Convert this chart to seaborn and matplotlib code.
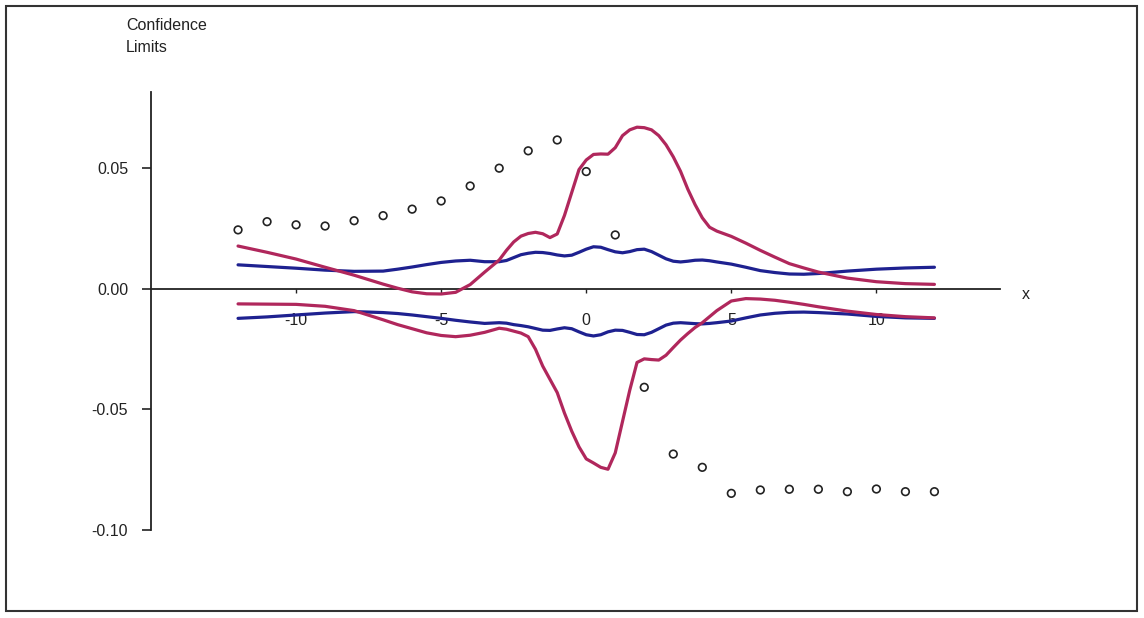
import numpy as np
import pandas as pd
import matplotlib
matplotlib.use("Agg")
import matplotlib.pyplot as plt
from matplotlib.patches import Rectangle
import seaborn as sns

# Shared abscissa for the four limit curves
x_grid = [-12, -11, -10, -9, -8, -7, -6.5, -6, -5.5, -5, -4.5, -4, -3.5, -3,
          -2.75, -2.5, -2.25, -2, -1.75, -1.5, -1.25, -1, -0.75, -0.5, -0.25,
          0, 0.25, 0.5, 0.75, 1, 1.25, 1.5, 1.75, 2, 2.25, 2.5, 2.75, 3, 3.25,
          3.5, 3.75, 4, 4.25, 4.5, 5, 5.5, 6, 6.5, 7, 7.5, 8, 9, 10, 11, 12]

red_upper = [0.0178, 0.0152, 0.0124, 0.0090, 0.0057, 0.0020, 0.0003, -0.0012,
             -0.0020, -0.0021, -0.0014, 0.0018, 0.0070, 0.0120, 0.0160,
             0.0195, 0.0219, 0.0230, 0.0235, 0.0229, 0.0213, 0.0228, 0.0305,
             0.0400, 0.0495, 0.0535, 0.0558, 0.0560, 0.0559, 0.0586, 0.0636,
             0.0660, 0.0671, 0.0669, 0.0660, 0.0636, 0.0598, 0.0548, 0.0488,
             0.0414, 0.0350, 0.0295, 0.0256, 0.0240, 0.0218, 0.0190, 0.0160,
             0.0132, 0.0105, 0.0087, 0.0070, 0.0045, 0.0030, 0.0022, 0.0019]

red_lower = [-0.0062, -0.0063, -0.0064, -0.0072, -0.0090, -0.0128, -0.0148,
             -0.0165, -0.0182, -0.0193, -0.0198, -0.0192, -0.0180, -0.0163,
             -0.0167, -0.0175, -0.0183, -0.0198, -0.0250, -0.0320, -0.0375,
             -0.0430, -0.0515, -0.0590, -0.0655, -0.0705, -0.0722, -0.0740,
             -0.0748, -0.0680, -0.0550, -0.0420, -0.0305, -0.0290, -0.0293,
             -0.0295, -0.0275, -0.0243, -0.0212, -0.0185, -0.0160, -0.0140,
             -0.0115, -0.0090, -0.0050, -0.0040, -0.0042, -0.0047, -0.0055,
             -0.0064, -0.0074, -0.0092, -0.0106, -0.0115, -0.0120]

blue_upper = [0.0100, 0.0093, 0.0086, 0.0078, 0.0073, 0.0074, 0.0082, 0.0091,
              0.0101, 0.0110, 0.0116, 0.0119, 0.0113, 0.0113, 0.0118, 0.0130,
              0.0142, 0.0148, 0.0152, 0.0151, 0.0147, 0.0141, 0.0137, 0.0140,
              0.0152, 0.0165, 0.0175, 0.0173, 0.0163, 0.0154, 0.0150, 0.0155,
              0.0163, 0.0165, 0.0155, 0.0140, 0.0125, 0.0115, 0.0112, 0.0115,
              0.0119, 0.0120, 0.0117, 0.0112, 0.0103, 0.0090, 0.0076, 0.0068,
              0.0062, 0.0061, 0.0064, 0.0074, 0.0082, 0.0087, 0.0090]

blue_lower = [-0.0122, -0.0116, -0.0108, -0.0100, -0.0094, -0.0098, -0.0102,
              -0.0108, -0.0115, -0.0122, -0.0130, -0.0137, -0.0143, -0.0140,
              -0.0142, -0.0148, -0.0152, -0.0157, -0.0164, -0.0171, -0.0172,
              -0.0166, -0.0161, -0.0165, -0.0178, -0.0190, -0.0195, -0.0190,
              -0.0178, -0.0171, -0.0172, -0.0180, -0.0189, -0.0190, -0.0180,
              -0.0165, -0.0150, -0.0142, -0.0140, -0.0142, -0.0144, -0.0145,
              -0.0143, -0.0140, -0.0133, -0.0120, -0.0108, -0.0101, -0.0097,
              -0.0096, -0.0098, -0.0104, -0.0114, -0.0120, -0.0122]

# Point estimates shown as open circles
point_x = list(range(-12, 13))
point_y = [0.0245, 0.0279, 0.0266, 0.0261, 0.0283, 0.0304, 0.0331, 0.0365,
           0.0427, 0.0501, 0.0573, 0.0618, 0.0487, 0.0224, -0.0408, -0.0685,
           -0.0740, -0.0848, -0.0834, -0.0831, -0.0831, -0.0841, -0.0830,
           -0.0841, -0.0841]

x_ticks = [-10, -5, 0, 5, 10]
y_ticks = [-0.10, -0.05, 0.00, 0.05]

sns.set_style("white")
plt.rcParams["font.family"] = ["Liberation Sans", "DejaVu Sans"]
plt.rcParams["axes.unicode_minus"] = False

RED = "#B0275C"
BLUE = "#1E2190"

fig = plt.figure(figsize=(11.44, 6.18), dpi=100)
ax = fig.add_axes([151 / 1144, 88 / 618, 849 / 1144, 438 / 618])

curves = pd.DataFrame({"x": x_grid, "ru": red_upper, "rl": red_lower,
                       "bu": blue_upper, "bl": blue_lower})
for col, colr in [("bu", BLUE), ("bl", BLUE), ("ru", RED), ("rl", RED)]:
    sns.lineplot(data=curves, x="x", y=col, color=colr, linewidth=2.3,
                 estimator=None, ax=ax, zorder=3)

pts = pd.DataFrame({"x": point_x, "y": point_y})
sns.scatterplot(data=pts, x="x", y="y", marker="o", s=30,
                facecolor="none", edgecolor="#222222", linewidth=1.2,
                ax=ax, zorder=4)

ax.set_xlim(-15.0, 14.26)
ax.set_ylim(-0.10, 0.0817)

for side in ("top", "right"):
    ax.spines[side].set_visible(False)
ax.spines["bottom"].set_position(("data", 0))
ax.spines["bottom"].set_color("#222222")
ax.spines["left"].set_color("#222222")
ax.spines["bottom"].set_linewidth(1.3)
ax.spines["left"].set_linewidth(1.3)

ax.set_xticks(x_ticks)
ax.set_xticklabels([str(t) for t in x_ticks])
ax.set_yticks(y_ticks)
ax.set_yticklabels([f"{t:.2f}" for t in y_ticks])
ax.tick_params(axis="x", direction="out", length=3, width=1, pad=14,
               labelsize=11.5, colors="#222222", bottom=True)
ax.tick_params(axis="y", direction="out", length=6.5, width=1.2, pad=10,
               labelsize=11.5, colors="#222222", left=True)
ax.set_xlabel("")
ax.set_ylabel("")

fig.text(1026 / 1144, 1 - 295 / 618, "x", fontsize=11.5, ha="center",
         va="center", color="#222222")
fig.text(126 / 1144, 1 - 25 / 618, "Confidence", fontsize=11.5, ha="left",
         va="center", color="#222222")
fig.text(126 / 1144, 1 - 47 / 618, "Limits", fontsize=11.5, ha="left",
         va="center", color="#222222")

# Outer frame around the whole figure
fig.patches.append(Rectangle((6 / 1144, 1 - 611 / 618), 1131 / 1144,
                             605 / 618, transform=fig.transFigure,
                             fill=False, edgecolor="#333333", linewidth=1.5))

fig.savefig("out.png", dpi=100)
